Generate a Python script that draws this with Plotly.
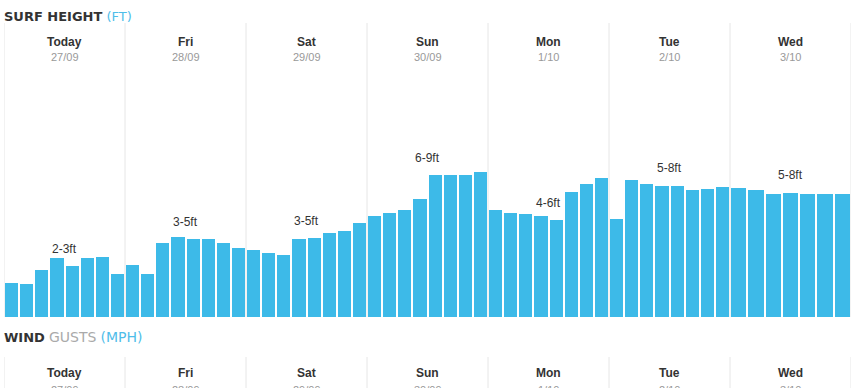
import plotly.graph_objects as go

days = ["Today", "Fri", "Sat", "Sun", "Mon", "Tue", "Wed"]
dates = ["27/09", "28/09", "29/09", "30/09", "1/10", "2/10", "3/10"]
range_labels = ["2-3ft", "3-5ft", "3-5ft", "6-9ft", "4-6ft", "5-8ft", "5-8ft"]
label_y = [3.4, 4.75, 4.8, 7.95, 5.7, 7.45, 7.1]

heights = [
    [1.70, 1.65, 2.35, 2.95, 2.55, 2.95, 3.00, 2.15],
    [2.60, 2.15, 3.70, 4.00, 3.90, 3.90, 3.70, 3.45],
    [3.35, 3.20, 3.10, 3.90, 3.95, 4.20, 4.30, 4.70],
    [5.05, 5.20, 5.35, 5.90, 7.10, 7.10, 7.10, 7.25],
    [5.35, 5.20, 5.15, 5.05, 4.85, 6.25, 6.65, 6.95],
    [4.90, 6.85, 6.65, 6.55, 6.55, 6.35, 6.40, 6.50],
    [6.45, 6.35, 6.15, 6.20, 6.15, 6.15, 6.15],
]

# geometry (pixels)
W, H = 862, 388
L, R = 4, 851
TOP, BOT = 23, 317
plot_h = BOT - TOP
day_px = (R - L) / len(days)
gap_px = 2

BAR = "#3dbae8"
GRID = "#e6e6e6"

xs, ys, ws = [], [], []
for d, vals in enumerate(heights):
    n = len(vals)
    for i, v in enumerate(vals):
        xs.append(d + (i + 0.5) / n)
        ys.append(v)
        ws.append(1 / n - gap_px / day_px)

fig = go.Figure(go.Bar(x=xs, y=ys, width=ws, marker=dict(color=BAR, line=dict(width=0)),
                       hoverinfo="y"))

shapes = []
for k in range(len(days) + 1):
    shapes.append(dict(type="line", xref="x", yref="paper", x0=k, x1=k, y0=0, y1=1,
                       line=dict(color=GRID, width=1), layer="below"))
    shapes.append(dict(type="line", xref="x", yref="paper", x0=k, x1=k,
                       y0=-(357 - BOT) / plot_h, y1=-(400 - BOT) / plot_h,
                       line=dict(color=GRID, width=1), layer="below"))

ann = []
ann.append(dict(xref="paper", yref="paper", x=0, y=1, yshift=TOP - 16, xshift=-2,
                xanchor="left", yanchor="middle", showarrow=False,
                text="<b>SURF HEIGHT</b> <span style='color:#4fbde9'>(FT)</span>",
                font=dict(family="DejaVu Sans", size=13, color="#333333")))
ann.append(dict(xref="paper", yref="paper", x=0, y=0, yshift=-(337 - BOT), xshift=-2,
                xanchor="left", yanchor="middle", showarrow=False,
                text="<b>WIND</b> <span style='color:#aaaaaa;font-size:14px'>GUSTS</span> "
                     "<span style='color:#4fbde9;font-size:14px'>(MPH)</span>",
                font=dict(family="DejaVu Sans", size=13, color="#333333")))
for d in range(len(days)):
    for yoff, base in ((42 - TOP, 1), (373 - BOT, 0)):
        ann.append(dict(xref="x", yref="paper", x=d + 0.5, y=base, yshift=-yoff,
                        xanchor="center", yanchor="middle", showarrow=False,
                        text="<b>%s</b>" % days[d],
                        font=dict(family="Liberation Sans", size=12, color="#333333")))
    for yoff, base in ((57 - TOP, 1), (390 - BOT, 0)):
        ann.append(dict(xref="x", yref="paper", x=d + 0.5, y=base, yshift=-yoff,
                        xanchor="center", yanchor="middle", showarrow=False,
                        text=dates[d],
                        font=dict(family="Liberation Sans", size=11, color="#999999")))
    ann.append(dict(xref="x", yref="y", x=d + 0.5, y=label_y[d],
                    xanchor="center", yanchor="middle", showarrow=False,
                    text=range_labels[d],
                    font=dict(family="Liberation Sans", size=12, color="#333333")))

fig.update_layout(
    width=W, height=H,
    margin=dict(l=L, r=W - R, t=TOP, b=H - BOT, pad=0),
    paper_bgcolor="white", plot_bgcolor="white",
    showlegend=False, bargap=0,
    xaxis=dict(range=[0, len(days)], visible=False, fixedrange=True),
    yaxis=dict(range=[0, plot_h / 20], visible=False, fixedrange=True),
    shapes=shapes, annotations=ann,
)

fig.write_html("out.html", config={"displayModeBar": False},
               post_script="document.body.style.margin='0';document.body.style.overflow='hidden';")
